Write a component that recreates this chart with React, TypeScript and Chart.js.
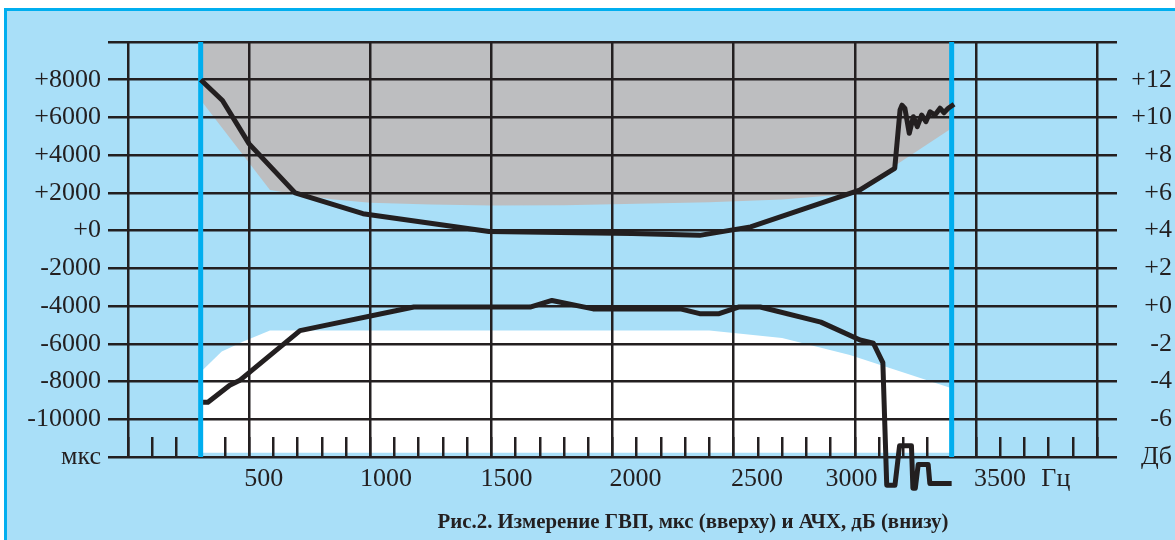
import React, { useEffect, useRef } from 'react';
import { Chart, registerables } from 'chart.js';

Chart.register(...registerables);

const INK = '#231f20';
const CYAN = '#00aeef';
const SKY = '#a9dff8';
const GRAY = '#bdbec0';
const SERIF = '"Liberation Serif", "Times New Roman", serif';

// Frequency axis (Hz)
const freqMin = 0;
const freqMax = 4000;
const freqMajor = 500;
const freqMinor = 100;
const bandEdgesHz = [300, 3400];

// ГВП (group delay), мкс — left axis
const gdFreq = [300, 390, 500, 690, 970, 1490, 2080, 2360, 2570, 3020, 3165, 3187, 3195, 3207, 3225, 3242, 3258, 3276, 3294, 3311, 3331, 3352, 3368, 3386, 3410];
const gdUs = [8000, 6900, 4600, 2000, 900, -50, -150, -250, 200, 2150, 3300, 6400, 6650, 6480, 5160, 6040, 5510, 6130, 5780, 6300, 6130, 6490, 6250, 6490, 6700];

// АЧХ (frequency response), дБ — right axis
const frFreq = [310, 330, 420, 460, 710, 1180, 1660, 1750, 1920, 2280, 2360, 2440, 2520, 2610, 2860, 3022, 3077, 3116, 3132, 3166, 3185, 3234, 3240, 3250, 3262, 3303, 3310, 3400];
const frDb = [-5.1, -5.1, -4.2, -3.95, -1.3, -0.05, -0.05, 0.3, -0.15, -0.15, -0.4, -0.4, -0.05, -0.05, -0.85, -1.8, -1.97, -3.0, -9.5, -9.5, -7.4, -7.4, -9.65, -9.65, -8.4, -8.4, -9.4, -9.4];

// Tolerance masks
const gdMaskFreq = [300, 586, 710, 850, 1000, 1250, 1500, 1800, 2100, 2400, 2700, 2990, 3400];
const gdMaskUs = [6920, 2150, 1890, 1650, 1480, 1380, 1330, 1350, 1420, 1500, 1650, 1950, 5430];
const frMaskFreq = [300, 387, 476, 586, 2400, 2700, 2980, 3400];
const frMaskDb = [-3.5, -2.41, -1.88, -1.3, -1.3, -1.69, -2.59, -4.35];
const frMaskFloorDb = -7.78;

// Axis ticks and labels
const leftTickValues = [10000, 8000, 6000, 4000, 2000, 0, -2000, -4000, -6000, -8000, -10000, -12000];
const leftTickLabels = ['', '+8000', '+6000', '+4000', '+2000', '+0', '-2000', '-4000', '-6000', '-8000', '-10000', 'мкс'];
const rightTickValues = [14, 12, 10, 8, 6, 4, 2, 0, -2, -4, -6, -8];
const rightTickLabels = ['', '+12', '+10', '+8', '+6', '+4', '+2', '+0', '-2', '-4', '-6', 'Дб'];
const xTickLabels = ['500', '1000', '1500', '2000', '2500', '3000', '3500', 'Гц'];
const xTickLabelAtHz = [560, 1065, 1562, 2095, 2597, 2987, 3600, 3830];
const caption = 'Рис.2. Измерение ГВП, мкс (вверху) и АЧХ, дБ (внизу)';

const zip = (xs: number[], ys: number[]) => xs.map((x, i) => ({ x, y: ys[i] }));

const overlay = {
  id: 'overlay',
  afterDraw(chart: any) {
    const ctx = chart.ctx;
    const xs = chart.scales.x;
    ctx.save();
    ctx.fillStyle = INK;
    ctx.font = `26px ${SERIF}`;
    ctx.textAlign = 'center';
    ctx.textBaseline = 'alphabetic';
    const base = chart.chartArea.bottom + 29;
    xTickLabels.forEach((t, i) => {
      ctx.fillText(t, xs.getPixelForValue(xTickLabelAtHz[i]), base);
    });
    ctx.font = `bold 22px ${SERIF}`;
    const w = ctx.measureText(caption).width;
    ctx.translate(693, 528);
    ctx.scale(511 / w, 1);
    ctx.fillText(caption, 0, 0);
    ctx.restore();
  },
};

export default function App() {
  const ref = useRef<HTMLCanvasElement | null>(null);

  useEffect(() => {
    if (!ref.current) return;
    const lineBase = { pointRadius: 0, pointHoverRadius: 0, tension: 0 };
    const curve = { borderColor: INK, borderWidth: 5, borderJoinStyle: 'round', fill: false, order: 0, clip: false };
    const chart = new Chart(ref.current, {
      type: 'line',
      data: {
        datasets: [
          { ...lineBase, ...curve, label: 'ГВП, мкс', data: zip(gdFreq, gdUs), yAxisID: 'y' } as any,
          { ...lineBase, ...curve, label: 'АЧХ, дБ', data: zip(frFreq, frDb), yAxisID: 'y2' } as any,
          ...bandEdgesHz.map((f) => ({
            ...lineBase,
            label: `${f} Гц`,
            data: [{ x: f, y: leftTickValues[leftTickValues.length - 1] }, { x: f, y: leftTickValues[0] }],
            yAxisID: 'y',
            borderColor: CYAN,
            borderWidth: 5,
            fill: false,
            order: 1,
          })) as any[],
          { ...lineBase, label: 'Маска ГВП', data: zip(gdMaskFreq, gdMaskUs), yAxisID: 'y', borderColor: 'rgba(0,0,0,0)', borderWidth: 0, backgroundColor: GRAY, fill: 'end', order: 2 } as any,
          { ...lineBase, label: 'Маска АЧХ', data: zip(frMaskFreq, frMaskDb), yAxisID: 'y2', borderColor: 'rgba(0,0,0,0)', borderWidth: 0, backgroundColor: '#ffffff', fill: { value: frMaskFloorDb }, order: 2 } as any,
        ],
      },
      options: {
        animation: false,
        responsive: false,
        devicePixelRatio: 1,
        events: [],
        layout: { padding: { top: 42, right: 3, left: 0, bottom: 0 } },
        plugins: {
          legend: { display: false },
          tooltip: { enabled: false },
          title: { display: false },
          filler: { drawTime: 'beforeDraw', propagate: false },
        } as any,
        scales: {
          x: {
            type: 'linear',
            position: 'bottom',
            min: freqMin,
            max: freqMax,
            afterFit: (s: any) => { s.height = 83; },
            border: { display: false },
            ticks: { stepSize: freqMinor, display: false, autoSkip: false, maxTicksLimit: 1000 },
            grid: {
              color: (c: any) => (c.tick && c.tick.value % freqMajor === 0 ? INK : 'rgba(0,0,0,0)'),
              lineWidth: 2.5,
              drawTicks: true,
              tickLength: -20,
              tickColor: INK,
              tickWidth: 2.5,
            },
          },
          y: {
            type: 'linear',
            position: 'left',
            min: leftTickValues[leftTickValues.length - 1],
            max: leftTickValues[0],
            afterFit: (s: any) => { s.width = 128; },
            afterBuildTicks: (s: any) => { s.ticks = leftTickValues.map((v) => ({ value: v })); },
            border: { display: false },
            ticks: {
              autoSkip: false,
              padding: 7,
              color: INK,
              font: { family: SERIF, size: 26 },
              callback: (v: any) => leftTickLabels[leftTickValues.indexOf(Number(v))] ?? '',
            },
            grid: { color: INK, lineWidth: 2.5, drawTicks: true, tickLength: 20, tickColor: INK, tickWidth: 2.5 },
          },
          y2: {
            type: 'linear',
            position: 'right',
            min: rightTickValues[rightTickValues.length - 1],
            max: rightTickValues[0],
            afterFit: (s: any) => { s.width = 75; },
            afterBuildTicks: (s: any) => { s.ticks = rightTickValues.map((v) => ({ value: v })); },
            border: { display: false },
            ticks: {
              autoSkip: false,
              crossAlign: 'far',
              color: INK,
              font: { family: SERIF, size: 26 },
              callback: (v: any) => rightTickLabels[rightTickValues.indexOf(Number(v))] ?? '',
            },
            grid: { drawOnChartArea: false, color: INK, lineWidth: 2.5, drawTicks: true, tickLength: 20, tickColor: INK, tickWidth: 2.5 },
          },
        } as any,
      },
      plugins: [overlay],
    });
    return () => chart.destroy();
  }, []);

  return (
    <div style={{ position: 'fixed', left: 0, top: 0, width: 1175, height: 540, background: '#ffffff', overflow: 'hidden' }}>
      <div
        style={{
          position: 'absolute',
          left: 4,
          top: 8,
          width: 1300,
          height: 700,
          background: SKY,
          border: `3px solid ${CYAN}`,
          boxSizing: 'border-box',
        }}
      />
      <canvas ref={ref} width={1175} height={540} style={{ position: 'absolute', left: 0, top: 0 }} />
    </div>
  );
}
